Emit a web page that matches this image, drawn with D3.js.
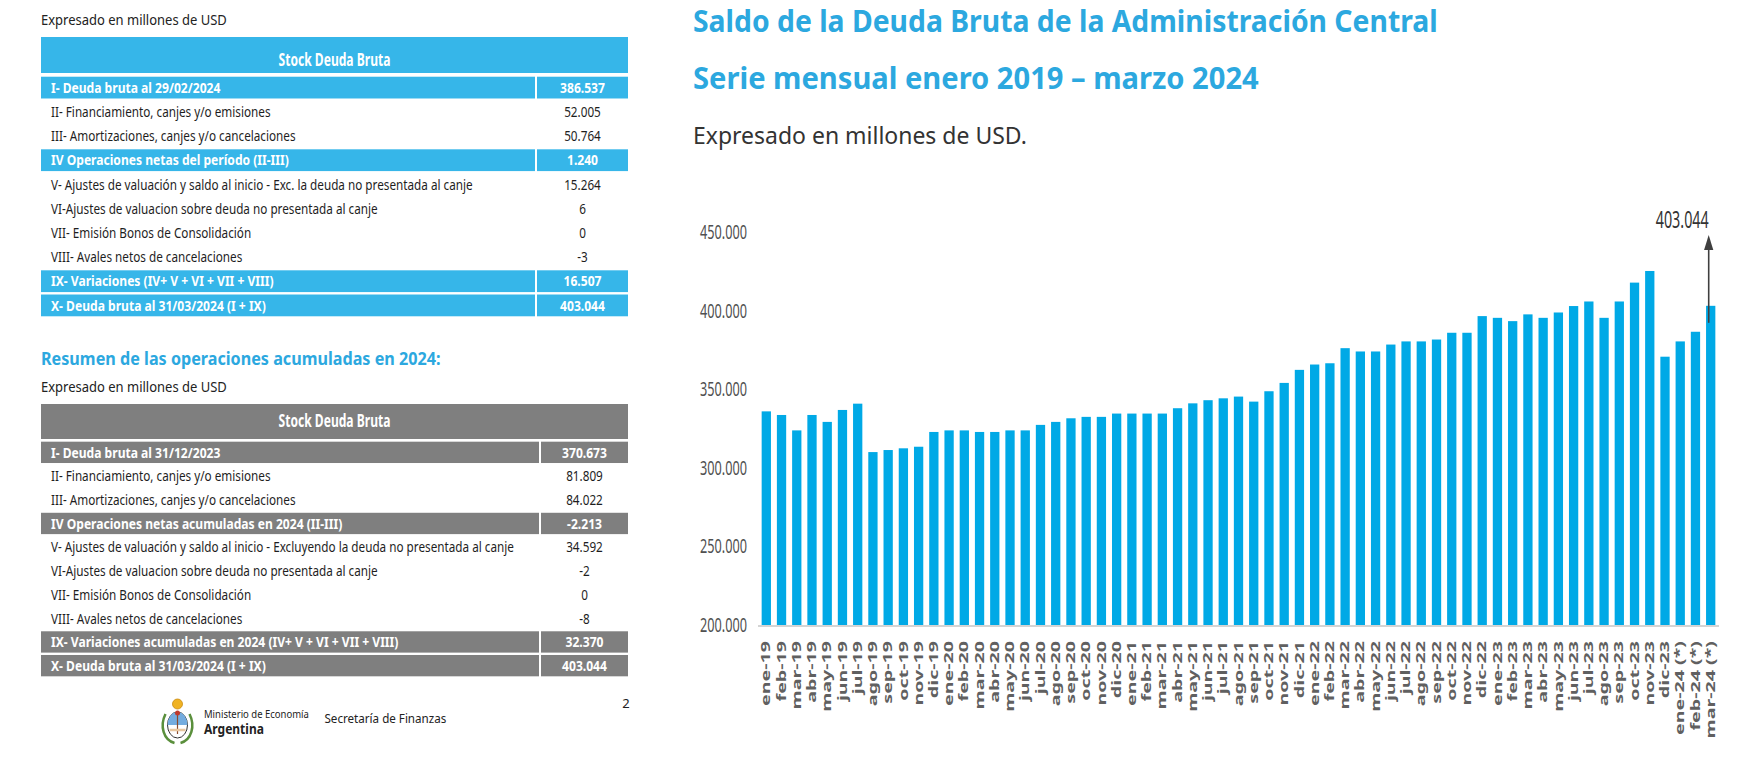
<!DOCTYPE html>
<html lang="es">
<head>
<meta charset="utf-8">
<title>Saldo de la Deuda Bruta de la Administración Central</title>
<script src="https://cdn.jsdelivr.net/npm/d3@7"></script>
<style>
  body { margin: 0; background: #fff; }
  svg { display: block; }
  text { font-family: "Noto Sans", "Open Sans", sans-serif; }
</style>
</head>
<body>
<svg id="page" width="1738" height="757"></svg>
<script>
// --- datos ---
var months = [
  'ene-19','feb-19','mar-19','abr-19','may-19','jun-19','jul-19','ago-19','sep-19','oct-19','nov-19','dic-19',
  'ene-20','feb-20','mar-20','abr-20','may-20','jun-20','jul-20','ago-20','sep-20','oct-20','nov-20','dic-20',
  'ene-21','feb-21','mar-21','abr-21','may-21','jun-21','jul-21','ago-21','sep-21','oct-21','nov-21','dic-21',
  'ene-22','feb-22','mar-22','abr-22','may-22','jun-22','jul-22','ago-22','sep-22','oct-22','nov-22','dic-22',
  'ene-23','feb-23','mar-23','abr-23','may-23','jun-23','jul-23','ago-23','sep-23','oct-23','nov-23','dic-23',
  'ene-24 (*)','feb-24 (*)','mar-24 (*)'
];
// millones de USD
var debt = [
  335900, 333600, 323800, 333600, 329200, 336800, 340800, 310000, 311300, 312400, 313400, 322800,
  323800, 323800, 322800, 322800, 323800, 323800, 327300, 329200, 331500, 332400, 332400, 334500,
  334500, 334500, 334500, 337900, 341000, 343000, 344200, 345300, 342100, 348700, 354000, 362300,
  365700, 366500, 376100, 374000, 374000, 378400, 380400, 380400, 381600, 385900, 385900, 396500,
  395400, 393300, 397600, 395400, 398800, 402900, 405800, 395400, 405800, 417800, 425200, 370673,
  380400, 386537, 403044
];
var yTicks = [200000, 250000, 300000, 350000, 400000, 450000];
var lastLabel = '403.044';

var rows1 = [
  'I- Deuda bruta al 29/02/2024',
  'II- Financiamiento, canjes y/o emisiones',
  'III- Amortizaciones, canjes y/o cancelaciones',
  'IV Operaciones netas del período (II-III)',
  'V- Ajustes de valuación y saldo al inicio - Exc. la deuda no presentada al canje',
  'VI-Ajustes de valuacion sobre deuda no presentada al canje',
  'VII- Emisión Bonos de Consolidación',
  'VIII- Avales netos de cancelaciones',
  'IX- Variaciones (IV+ V + VI + VII + VIII)',
  'X- Deuda bruta al 31/03/2024 (I + IX)'
];
var vals1 = ['386.537', '52.005', '50.764', '1.240', '15.264', '6', '0', '-3', '16.507', '403.044'];

var rows2 = [
  'I- Deuda bruta al 31/12/2023',
  'II- Financiamiento, canjes y/o emisiones',
  'III- Amortizaciones, canjes y/o cancelaciones',
  'IV Operaciones netas acumuladas en 2024 (II-III)',
  'V- Ajustes de valuación y saldo al inicio - Excluyendo la deuda no presentada al canje',
  'VI-Ajustes de valuacion sobre deuda no presentada al canje',
  'VII- Emisión Bonos de Consolidación',
  'VIII- Avales netos de cancelaciones',
  'IX- Variaciones acumuladas en 2024 (IV+ V + VI + VII + VIII)',
  'X- Deuda bruta al 31/03/2024 (I + IX)'
];
var vals2 = ['370.673', '81.809', '84.022', '-2.213', '34.592', '-2', '0', '-8', '32.370', '403.044'];
var strongRows = [0, 3, 8, 9];

var barBlue = '#00a9e6', cellBlue = '#36b6e9', titleBlue = '#2ca8df', cellGray = '#7f7f7f';

var svg = d3.select('#page');

// texto en (x,y) con transform, para poder comprimirlo en horizontal
function label(parent, x, y, txt) {
  return parent.append('text').attr('transform', 'translate(' + x + ',' + y + ')').text(txt);
}
function scaleX(sel, s) {
  sel.each(function() {
    var t = d3.select(this);
    t.attr('transform', (t.attr('transform') || '') + ' scale(' + s + ',1)');
  });
}
// factor para que una muestra mida w px
function ratio(sel, w) { return w / sel.node().getComputedTextLength(); }
function fit(sel, w) { scaleX(sel, ratio(sel, w)); return sel; }

// --- grafico ---
var x = d3.scaleBand().domain(months).range([758, 1719]).paddingInner(0.39).paddingOuter(0.24);
var y = d3.scaleLinear().domain([200000, 450000]).range([625, 232]);
var loc = d3.formatLocale({decimal: ',', thousands: '.', grouping: [3], currency: ['$', '']});
var fmt = loc.format(',d');

var chart = svg.append('g');

chart.append('g').selectAll('rect').data(debt).join('rect')
  .attr('x', function(d, i) { return x(months[i]); })
  .attr('y', function(d) { return y(d); })
  .attr('width', x.bandwidth())
  .attr('height', function(d) { return y(200000) - y(d); })
  .attr('fill', barBlue);

chart.append('line')
  .attr('x1', x.range()[0]).attr('x2', x.range()[1])
  .attr('y1', y(200000) + 1).attr('y2', y(200000) + 1)
  .attr('stroke', '#d4d4d4').attr('stroke-width', 2);

var yAxis = chart.append('g').attr('transform', 'translate(747,0)')
  .call(d3.axisLeft(y).tickValues(yTicks).tickFormat(fmt).tickSize(0).tickPadding(0));
yAxis.select('.domain').remove();
var yText = yAxis.selectAll('text')
  .attr('font-family', '"Noto Sans", sans-serif').attr('font-size', 20).attr('fill', '#505050');
scaleX(yText, ratio(yAxis.select('text'), 47));

var xAxis = chart.append('g').attr('transform', 'translate(0,641)')
  .call(d3.axisBottom(x).tickSize(0).tickPadding(0));
xAxis.select('.domain').remove();
var xText = xAxis.selectAll('text')
  .attr('font-family', '"DejaVu Sans", sans-serif').attr('font-size', 11.5)
  .attr('font-weight', 'bold').attr('fill', '#606060')
  .attr('text-anchor', 'end').attr('x', 0).attr('y', 0).attr('dy', '0.36em')
  .attr('transform', 'rotate(-90)');
scaleX(xText, ratio(xAxis.select('text'), 65));

// flecha del ultimo dato
var last = months[months.length - 1];
var ax = x(last) + x.bandwidth() / 2 - 2;
var lastY = y(debt[debt.length - 1]);
chart.append('line').attr('x1', ax).attr('x2', ax).attr('y1', lastY + 17).attr('y2', 249)
  .attr('stroke', '#3f3f3f').attr('stroke-width', 1.6);
chart.append('path')
  .attr('d', 'M' + ax + ',235 L' + (ax - 4.6) + ',250 L' + (ax + 4.6) + ',250 Z')
  .attr('fill', '#3f3f3f');
var ll = label(chart, ax, 228, lastLabel).attr('text-anchor', 'end')
  .attr('font-size', 23).attr('fill', '#333');
fit(ll, 53);

// titulos
var t1 = label(svg, 693, 32, 'Saldo de la Deuda Bruta de la Administración Central')
  .attr('font-size', 31).attr('font-weight', 'bold').attr('fill', titleBlue);
fit(t1, 745);
var t2 = label(svg, 693, 88.5, 'Serie mensual enero 2019 – marzo 2024')
  .attr('font-size', 31).attr('font-weight', 'bold').attr('fill', titleBlue);
fit(t2, 566);
var st = label(svg, 693, 143.5, 'Expresado en millones de USD.')
  .attr('font-size', 24).attr('fill', '#333');
fit(st, 334);

// --- tablas ---
function drawTable(g, o) {
  var rb = d3.scaleBand().domain(d3.range(o.rows.length))
    .range([o.rowTop, o.rowTop + o.pitch * o.rows.length]).paddingInner(0.1).paddingOuter(0.05);
  var cap = label(g, 41, o.capY, 'Expresado en millones de USD')
    .attr('font-size', 14).attr('fill', '#222').attr('dy', '0.35em');
  fit(cap, 186);

  g.append('rect').attr('x', 41).attr('y', o.headTop).attr('width', 587).attr('height', o.headH)
    .attr('fill', o.color);
  var hd = label(g, 334.5, o.headTextY, 'Stock Deuda Bruta').attr('text-anchor', 'middle')
    .attr('dy', '0.35em').attr('font-size', 17).attr('font-weight', 'bold').attr('fill', '#fff');
  fit(hd, 112);

  var strong = function(i) { return strongRows.indexOf(i) >= 0; };
  g.selectAll('rect.lab').data(o.rows.map(function(d, i) { return i; }).filter(strong)).join('rect')
    .attr('class', 'lab').attr('x', 41).attr('y', function(i) { return rb(i); })
    .attr('width', o.split - 41).attr('height', rb.bandwidth()).attr('fill', o.color);
  g.selectAll('rect.val').data(o.rows.map(function(d, i) { return i; }).filter(strong)).join('rect')
    .attr('class', 'val').attr('x', o.split + 2).attr('y', function(i) { return rb(i); })
    .attr('width', 628 - o.split - 2).attr('height', rb.bandwidth()).attr('fill', o.color);

  var texts = g.selectAll('text.row').data(o.rows).join('text').attr('class', 'row')
    .attr('transform', function(d, i) { return 'translate(51,' + (rb(i) + rb.bandwidth() / 2) + ')'; })
    .attr('dy', '0.35em').attr('font-size', 15)
    .attr('font-weight', function(d, i) { return strong(i) ? 'bold' : 'normal'; })
    .attr('fill', function(d, i) { return strong(i) ? '#fff' : '#1e1e1e'; })
    .text(function(d) { return d; });
  var vx = (o.split + 2 + 628) / 2;
  var vals = g.selectAll('text.v').data(o.vals).join('text').attr('class', 'v')
    .attr('transform', function(d, i) { return 'translate(' + vx + ',' + (rb(i) + rb.bandwidth() / 2) + ')'; })
    .attr('text-anchor', 'middle').attr('dy', '0.35em').attr('font-size', 15)
    .attr('font-weight', function(d, i) { return strong(i) ? 'bold' : 'normal'; })
    .attr('fill', function(d, i) { return strong(i) ? '#fff' : '#1e1e1e'; })
    .text(function(d) { return d; });
  return {texts: texts, vals: vals};
}

var tab1 = drawTable(svg.append('g'), {rows: rows1, vals: vals1, color: cellBlue, capY: 20,
  headTop: 37, headH: 36, headTextY: 60, rowTop: 75.5, pitch: 24.2, split: 535});
var tab2 = drawTable(svg.append('g'), {rows: rows2, vals: vals2, color: cellGray, capY: 387,
  headTop: 404, headH: 35, headTextY: 421.5, rowTop: 440.5, pitch: 23.7, split: 539});

// compresion comun, medida sobre una fila normal y una destacada
var sReg = ratio(tab1.texts.filter(function(d, i) { return i === 4; }), 422);
var sBold = ratio(tab1.texts.filter(function(d, i) { return i === 3; }), 238);
[tab1, tab2].forEach(function(t) {
  t.texts.each(function(d, i) { scaleX(d3.select(this), strongRows.indexOf(i) >= 0 ? sBold : sReg); });
  t.vals.each(function(d, i) { scaleX(d3.select(this), strongRows.indexOf(i) >= 0 ? sBold : sReg); });
});

var rs = label(svg, 41, 359.5, 'Resumen de las operaciones acumuladas en 2024:')
  .attr('dy', '0.35em').attr('font-size', 17).attr('font-weight', 'bold').attr('fill', titleBlue);
fit(rs, 400);

// --- pie de pagina ---
var foot = svg.append('g');
var logo = foot.append('g').attr('transform', 'translate(177.5,722)');
logo.append('path').attr('d', 'M-12,-8 C-18,4 -14,18 -3,21 M12,-8 C18,4 14,18 3,21')
  .attr('fill', 'none').attr('stroke', '#5a8f3c').attr('stroke-width', 2.5);
logo.append('circle').attr('cy', -18).attr('r', 5).attr('fill', '#f0b323').attr('stroke', '#c98a10').attr('stroke-width', 0.8);
logo.append('ellipse').attr('rx', 10).attr('ry', 13).attr('cy', 3).attr('fill', '#fff').attr('stroke', '#333').attr('stroke-width', 1);
logo.append('path').attr('d', 'M-10,3 A10,13 0 0,1 10,3 Z').attr('fill', '#74acdf');
logo.append('line').attr('x1', 0).attr('x2', 0).attr('y1', -9).attr('y2', 12).attr('stroke', '#8b4a2b').attr('stroke-width', 1.2);
logo.append('circle').attr('cy', -9).attr('r', 2.5).attr('fill', '#c0392b');
logo.append('path').attr('d', 'M-8,8 L8,8').attr('stroke', '#e8c7a0').attr('stroke-width', 2.5);

fit(label(foot, 204, 718, 'Ministerio de Economía').attr('font-size', 10.5).attr('fill', '#222'), 105);
fit(label(foot, 204, 734, 'Argentina').attr('font-size', 14).attr('font-weight', 'bold').attr('fill', '#222'), 60);
fit(label(foot, 324.5, 723, 'Secretaría de Finanzas').attr('font-size', 12).attr('fill', '#222'), 122);
label(foot, 626, 708, '2').attr('font-size', 13).attr('fill', '#222').attr('text-anchor', 'middle');
</script>
</body>
</html>
